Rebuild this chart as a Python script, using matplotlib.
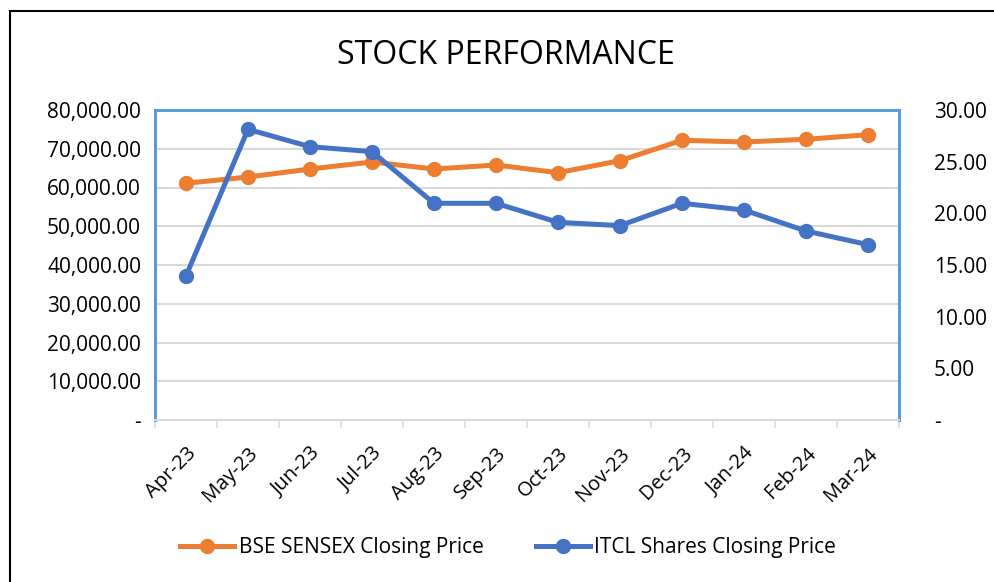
import matplotlib.pyplot as plt
from matplotlib.patches import Rectangle
from matplotlib.ticker import FuncFormatter
from matplotlib.lines import Line2D

months = ["Apr-23", "May-23", "Jun-23", "Jul-23", "Aug-23", "Sep-23",
          "Oct-23", "Nov-23", "Dec-23", "Jan-24", "Feb-24", "Mar-24"]
sensex = [61100, 62700, 64770, 66580, 64770, 65800,
          63820, 66920, 72180, 71740, 72440, 73630]
itcl = [13.94, 28.13, 26.45, 25.97, 20.97, 20.97,
        19.13, 18.81, 20.97, 20.32, 18.29, 16.97]

ORANGE = "#ED7D31"
BLUE = "#4472C4"
FRAME = "#5B9BD5"

plt.rcParams["font.family"] = ["Open Sans", "DejaVu Sans"]

fig = plt.figure(figsize=(9.95, 5.82), dpi=100)
# outer chart border (runs off the right and bottom edges)
fig.patches.append(Rectangle((10 / 995, -0.05), 1.1, 1 - 11 / 582 + 0.05,
                             transform=fig.transFigure, fill=False,
                             edgecolor="black", linewidth=1.5))

ax = fig.add_axes([155 / 995, 1 - 420 / 582, 744 / 995, 310 / 582])
ax2 = ax.twinx()

x = range(len(months))
ax.plot(x, sensex, color=ORANGE, lw=3.6, marker="o", ms=10, zorder=3)
ax2.plot(x, itcl, color=BLUE, lw=3.6, marker="o", ms=10, zorder=3)

ax.set_xlim(-0.5, len(months) - 0.5)
ax.set_ylim(0, 80000)
ax2.set_ylim(0, 30)
ax.set_yticks(range(0, 80001, 10000))
ax2.set_yticks(range(0, 31, 5))


def fmt_left(v, pos):
    return "-" if v == 0 else f"{v:,.2f}"


def fmt_right(v, pos):
    return "-" if v == 0 else f"{v:.2f}"


ax.yaxis.set_major_formatter(FuncFormatter(fmt_left))
ax2.yaxis.set_major_formatter(FuncFormatter(fmt_right))

ax.grid(axis="y", color="#D9D9D9", lw=1.5)
ax.set_axisbelow(True)

ax.set_xticks(list(x))
ax.set_xticklabels(months, rotation=45, ha="right", rotation_mode="anchor", fontsize=14.5)
ax.tick_params(axis="x", length=0, pad=17)
ax.set_xticks([i - 0.5 for i in range(len(months) + 1)], minor=True)
ax.tick_params(axis="x", which="minor", length=6, color="#D9D9D9", width=1.2)

ax.tick_params(axis="y", length=0, labelsize=15, pad=10)
ax2.tick_params(axis="y", length=0, labelsize=15, pad=25)

for a in (ax, ax2):
    for side in ("left", "top", "right"):
        a.spines[side].set_color(FRAME)
        a.spines[side].set_linewidth(2)
    a.spines["bottom"].set_color("#D9D9D9")
    a.spines["bottom"].set_linewidth(1.5)

fig.text(506 / 995, 1 - 56 / 582, "STOCK PERFORMANCE", ha="center", va="center", fontsize=23)

handles = [Line2D([], [], color=ORANGE, lw=3.6, marker="o", ms=10),
           Line2D([], [], color=BLUE, lw=3.6, marker="o", ms=10)]
fig.legend(handles, ["BSE SENSEX Closing Price", "ITCL Shares Closing Price"],
           loc="center", bbox_to_anchor=(508 / 995, 1 - 548 / 582), ncol=2,
           frameon=False, fontsize=15, handlelength=2.6, columnspacing=2.5, handletextpad=0.2)

fig.savefig("out.png", dpi=100)
